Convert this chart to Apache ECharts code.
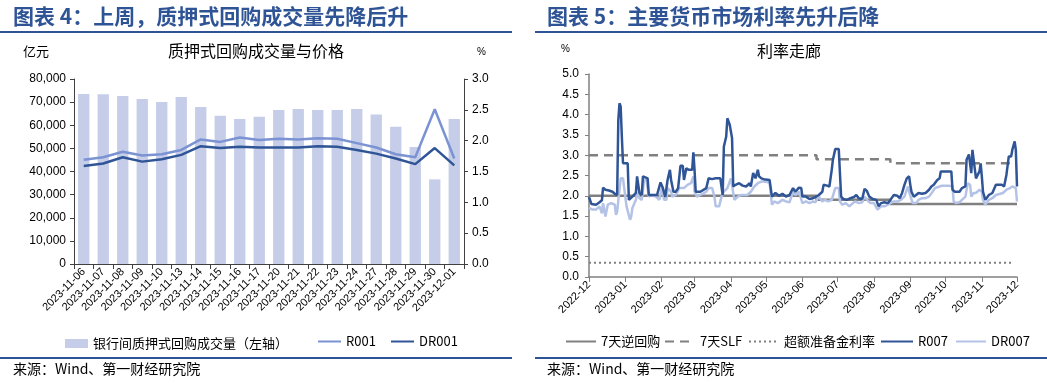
<!DOCTYPE html>
<html><head><meta charset="utf-8">
<script src="https://cdn.jsdelivr.net/npm/echarts@6/dist/echarts.min.js"></script>
<style>html,body{margin:0;padding:0;background:#fff}#c{width:1047px;height:383px}</style>
</head><body><div id="c"></div>
<script>
// ---------- Left chart data ----------
const repoDates = ['2023-11-06','2023-11-07','2023-11-08','2023-11-09','2023-11-10','2023-11-13','2023-11-14','2023-11-15','2023-11-16','2023-11-17','2023-11-20','2023-11-21','2023-11-22','2023-11-23','2023-11-24','2023-11-27','2023-11-28','2023-11-29','2023-11-30','2023-12-01'];
const repoVolume = [73500,73400,72600,71400,70100,72200,67900,64100,62700,63700,66600,67000,66600,66600,67000,64600,59400,50600,36600,62700];
const r001 = [1.69,1.73,1.82,1.76,1.78,1.85,2.02,1.98,2.05,2.01,2.03,2.02,2.04,2.03,1.96,1.89,1.78,1.73,2.51,1.71];
const dr001 = [1.59,1.63,1.73,1.66,1.70,1.77,1.91,1.88,1.90,1.89,1.89,1.89,1.91,1.90,1.85,1.79,1.71,1.62,1.88,1.60];
const leftVolTicks = [0,10000,20000,30000,40000,50000,60000,70000,80000];

// ---------- Right chart data ----------
const r007Dates = ['2022-12-01','2022-12-03','2022-12-07','2022-12-10','2022-12-12','2022-12-13','2022-12-15','2022-12-18','2022-12-21','2022-12-23','2022-12-25','2022-12-26','2022-12-27','2022-12-28','2022-12-29','2022-12-30','2023-01-03','2023-01-04','2023-01-05','2023-01-07','2023-01-10','2023-01-11','2023-01-13','2023-01-15','2023-01-16','2023-01-20','2023-01-21','2023-01-28','2023-01-31','2023-02-02','2023-02-04','2023-02-05','2023-02-06','2023-02-08','2023-02-09','2023-02-11','2023-02-13','2023-02-15','2023-02-17','2023-02-19','2023-02-20','2023-02-22','2023-02-24','2023-02-25','2023-02-27','2023-02-28','2023-03-01','2023-03-02','2023-03-03','2023-03-06','2023-03-11','2023-03-13','2023-03-16','2023-03-19','2023-03-23','2023-03-25','2023-03-26','2023-03-28','2023-03-29','2023-03-31','2023-04-01','2023-04-02','2023-04-03','2023-04-05','2023-04-08','2023-04-11','2023-04-14','2023-04-17','2023-04-18','2023-04-20','2023-04-22','2023-04-24','2023-04-25','2023-04-27','2023-04-29','2023-05-04','2023-05-06','2023-05-07','2023-05-09','2023-05-12','2023-05-15','2023-05-18','2023-05-21','2023-05-24','2023-05-26','2023-05-29','2023-05-31','2023-06-01','2023-06-04','2023-06-07','2023-06-10','2023-06-12','2023-06-15','2023-06-18','2023-06-19','2023-06-22','2023-06-24','2023-06-26','2023-06-27','2023-06-29','2023-07-02','2023-07-03','2023-07-04','2023-07-06','2023-07-09','2023-07-12','2023-07-15','2023-07-17','2023-07-19','2023-07-22','2023-07-24','2023-07-26','2023-07-28','2023-07-31','2023-08-03','2023-08-05','2023-08-07','2023-08-10','2023-08-13','2023-08-15','2023-08-18','2023-08-21','2023-08-23','2023-08-25','2023-08-27','2023-08-29','2023-08-31','2023-09-01','2023-09-02','2023-09-04','2023-09-06','2023-09-08','2023-09-11','2023-09-14','2023-09-17','2023-09-19','2023-09-21','2023-09-24','2023-09-26','2023-09-27','2023-10-06','2023-10-07','2023-10-09','2023-10-13','2023-10-15','2023-10-18','2023-10-19','2023-10-21','2023-10-22','2023-10-23','2023-10-24','2023-10-25','2023-10-27','2023-10-28','2023-10-30','2023-10-31','2023-11-01','2023-11-02','2023-11-04','2023-11-07','2023-11-10','2023-11-13','2023-11-18','2023-11-20','2023-11-22','2023-11-24','2023-11-26','2023-11-27','2023-11-29','2023-11-30','2023-12-01'];
const r007Values = [1.97,1.80,1.78,1.84,1.89,2.20,2.15,2.13,2.10,2.05,2.02,3.87,4.28,4.20,3.46,2.80,2.80,1.90,1.86,1.98,2.07,2.48,2.07,2.02,2.48,2.43,2.02,2.02,2.33,2.19,1.97,1.98,2.39,2.64,2.39,2.10,2.10,2.19,2.74,2.74,2.39,2.68,2.64,2.68,2.64,3.07,2.64,2.10,2.07,2.10,2.19,2.43,2.41,2.43,2.43,2.02,3.21,3.46,3.91,3.75,3.75,3.42,2.23,2.27,2.31,2.25,2.23,2.31,2.23,2.56,2.43,2.64,2.48,2.43,2.41,2.39,1.98,1.98,2.07,2.00,2.05,1.98,2.02,2.19,2.10,2.20,2.19,1.98,1.98,1.92,1.94,1.97,2.02,2.10,2.27,2.25,2.23,2.64,2.89,3.15,3.15,2.56,1.98,1.92,1.90,1.94,1.97,2.02,1.94,1.92,2.17,2.12,1.98,1.92,1.90,1.74,1.82,1.84,1.82,1.90,2.02,2.00,1.94,2.07,2.27,2.43,2.48,2.27,2.10,1.98,2.02,2.07,2.05,2.07,2.15,2.23,2.27,2.39,2.43,2.60,2.60,2.15,2.10,2.10,2.19,2.23,2.89,3.02,3.02,2.56,3.13,3.13,2.43,2.43,2.60,2.80,2.48,2.10,1.90,2.02,2.07,2.27,2.27,2.23,2.52,2.97,2.97,3.13,3.34,3.13,2.23];

const dr007Dates = ['2022-12-01','2022-12-04','2022-12-07','2022-12-10','2022-12-12','2022-12-13','2022-12-15','2022-12-17','2022-12-20','2022-12-23','2022-12-24','2022-12-25','2022-12-28','2022-12-30','2022-12-31','2023-01-02','2023-01-03','2023-01-05','2023-01-06','2023-01-07','2023-01-10','2023-01-11','2023-01-13','2023-01-15','2023-01-17','2023-01-19','2023-01-21','2023-01-23','2023-01-27','2023-01-30','2023-02-01','2023-02-02','2023-02-03','2023-02-05','2023-02-06','2023-02-09','2023-02-10','2023-02-13','2023-02-16','2023-02-17','2023-02-20','2023-02-23','2023-02-26','2023-02-28','2023-03-01','2023-03-03','2023-03-06','2023-03-11','2023-03-13','2023-03-16','2023-03-18','2023-03-19','2023-03-22','2023-03-24','2023-03-26','2023-03-29','2023-04-01','2023-04-02','2023-04-04','2023-04-07','2023-04-10','2023-04-15','2023-04-18','2023-04-21','2023-04-24','2023-04-27','2023-04-29','2023-05-04','2023-05-06','2023-05-08','2023-05-11','2023-05-12','2023-05-15','2023-05-18','2023-05-21','2023-05-24','2023-05-26','2023-05-29','2023-06-01','2023-06-04','2023-06-07','2023-06-10','2023-06-12','2023-06-15','2023-06-18','2023-06-20','2023-06-23','2023-06-26','2023-06-29','2023-07-02','2023-07-03','2023-07-05','2023-07-08','2023-07-11','2023-07-14','2023-07-16','2023-07-19','2023-07-22','2023-07-24','2023-07-26','2023-07-29','2023-08-01','2023-08-04','2023-08-07','2023-08-10','2023-08-13','2023-08-15','2023-08-18','2023-08-21','2023-08-24','2023-08-27','2023-08-30','2023-08-31','2023-09-03','2023-09-06','2023-09-08','2023-09-11','2023-09-14','2023-09-17','2023-09-20','2023-09-22','2023-09-26','2023-09-28','2023-10-04','2023-10-07','2023-10-08','2023-10-10','2023-10-13','2023-10-15','2023-10-18','2023-10-20','2023-10-22','2023-10-23','2023-10-25','2023-10-27','2023-10-30','2023-11-01','2023-11-02','2023-11-04','2023-11-07','2023-11-10','2023-11-13','2023-11-19','2023-11-22','2023-11-25','2023-11-27','2023-11-30','2023-12-01'];
const dr007Values = [1.70,1.66,1.66,1.74,1.57,1.82,1.49,1.78,1.82,1.78,1.53,1.61,2.43,2.43,2.39,1.74,1.70,1.41,1.49,1.70,1.90,2.07,1.94,1.90,2.39,2.39,1.98,2.02,1.98,1.90,2.19,2.10,1.90,1.90,2.19,2.10,1.98,2.02,2.19,2.23,2.19,2.27,2.31,2.48,2.10,1.98,2.02,2.10,2.19,2.19,1.98,1.74,1.74,1.98,2.10,2.19,2.43,2.39,1.90,1.98,2.02,2.02,2.10,2.23,2.31,2.35,2.35,2.33,1.78,1.86,1.82,1.84,1.90,1.86,1.84,2.10,2.02,2.10,1.82,1.86,1.82,1.86,1.84,1.98,1.86,1.90,1.86,1.90,2.19,2.19,1.86,1.78,1.82,1.74,1.82,1.86,1.82,1.84,1.98,1.90,1.82,1.82,1.66,1.74,1.74,1.78,1.82,1.86,1.86,1.90,1.98,2.23,2.10,1.82,1.82,1.90,1.94,1.94,1.98,2.10,2.19,2.23,2.25,2.25,2.23,1.86,1.82,1.84,1.90,1.98,2.31,2.27,1.98,2.07,2.07,2.15,2.10,1.90,1.78,1.90,1.94,2.02,2.07,2.15,2.19,2.23,2.19,1.86];

const revRepoDates = ['2022-12-01','2023-06-13','2023-06-13','2023-08-15','2023-08-15','2023-12-01'];
const revRepoValues = [2.0,2.0,1.9,1.9,1.8,1.8];
const slfDates = ['2022-12-01','2023-06-13','2023-06-13','2023-08-15','2023-08-15','2023-11-28'];
const slfValues = [3.0,3.0,2.9,2.9,2.8,2.8];
const excessDates = ['2022-12-01','2023-11-28'];
const excessValues = [0.35,0.35];

const zip = (a, b) => a.map((d, i) => [d, b[i]]);
const FONT = '"Liberation Sans","Noto Sans CJK SC",sans-serif';
const CJK = '"Noto Sans CJK SC",sans-serif';
const BLUE = '#2f5496';
const axisLineStyle = { color: '#404040', width: 1 };

const chart = echarts.init(document.getElementById('c'), null, { renderer: 'canvas' });

const legendBase = { orient: 'horizontal', top: 335, itemHeight: 14, itemGap: 0,
  textStyle: { fontFamily: CJK, fontSize: 13, color: '#000' }, padding: 0, selectedMode: false,
  itemStyle: { opacity: 0 } };

chart.setOption({
  backgroundColor: '#fff',
  animation: false,
  textStyle: { fontFamily: FONT },
  grid: [
    { left: 74, top: 79, width: 390, height: 185 },
    { left: 589, top: 74, width: 428, height: 203 }
  ],
  xAxis: [
    { type: 'category', gridIndex: 0, data: repoDates, boundaryGap: true,
      axisLine: { lineStyle: axisLineStyle }, axisTick: { show: true, length: 5, lineStyle: axisLineStyle },
      axisLabel: { rotate: 45, interval: 0, fontSize: 11, color: '#000', margin: 6, fontFamily: FONT } },
    { type: 'time', gridIndex: 1, min: '2022-12-01', max: '2023-12-01', splitNumber: 12,
      axisLine: { lineStyle: { color: '#808080', width: 1.5 } }, axisTick: { show: true, length: 5, lineStyle: { color: '#808080' } },
      splitLine: { show: false },
      axisLabel: { rotate: 45, fontSize: 11, color: '#000', margin: 6, showMinLabel: true, showMaxLabel: true, hideOverlap: false, fontFamily: FONT,
        formatter: v => echarts.time.format(v, '{yyyy}-{MM}', false) } }
  ],
  yAxis: [
    { type: 'value', gridIndex: 0, min: 0, max: 80000, interval: 10000, splitLine: { show: false },
      axisLine: { show: true, lineStyle: axisLineStyle }, axisTick: { show: true, length: 4, lineStyle: axisLineStyle },
      axisLabel: { fontSize: 12, color: '#000', margin: 8, fontFamily: FONT,
        formatter: v => leftVolTicks.includes(v) ? v.toString().replace(/\B(?=(\d{3})+(?!\d))/g, ',') : '' } },
    { type: 'value', gridIndex: 0, position: 'right', min: 0, max: 3, interval: 0.5, splitLine: { show: false },
      axisLine: { show: true, lineStyle: axisLineStyle }, axisTick: { show: true, length: 4, lineStyle: axisLineStyle },
      axisLabel: { fontSize: 12, color: '#000', margin: 8, fontFamily: FONT, formatter: v => v.toFixed(1) } },
    { type: 'value', gridIndex: 1, min: 0, max: 5, interval: 0.5, splitLine: { show: false },
      axisLine: { show: true, lineStyle: { color: '#808080', width: 1.5 } }, axisTick: { show: true, length: 4, lineStyle: { color: '#808080' } },
      axisLabel: { fontSize: 12, color: '#000', margin: 10, fontFamily: FONT, formatter: v => v.toFixed(1) } }
  ],
  legend: [
    Object.assign({}, legendBase, { left: 65, data: [{ name: '银行间质押式回购成交量（左轴）', icon: 'rect' }], itemWidth: 23, itemHeight: 9, top: 337, itemStyle: {} }),
    Object.assign({}, legendBase, { left: 317, data: ['R001'], itemWidth: 23 }),
    Object.assign({}, legendBase, { left: 390, data: ['DR001'], itemWidth: 23 }),
    Object.assign({}, legendBase, { left: 565, data: ['7天逆回购'], itemWidth: 30 }),
    Object.assign({}, legendBase, { left: 664, data: ['7天SLF'], itemWidth: 30 }),
    Object.assign({}, legendBase, { left: 748, data: ['超额准备金利率'], itemWidth: 30 }),
    Object.assign({}, legendBase, { left: 880, data: ['R007'], itemWidth: 32 }),
    Object.assign({}, legendBase, { left: 955, data: ['DR007'], itemWidth: 30 })
  ],
  series: [
    { name: '银行间质押式回购成交量（左轴）', type: 'bar', xAxisIndex: 0, yAxisIndex: 0, data: repoVolume,
      barWidth: '58%', itemStyle: { color: '#c5cde8' } },
    { name: 'R001', type: 'line', xAxisIndex: 0, yAxisIndex: 1, data: r001, symbol: 'none',
      lineStyle: { color: '#7b93d3', width: 2.5 }, itemStyle: { color: '#7b93d3' } },
    { name: 'DR001', type: 'line', xAxisIndex: 0, yAxisIndex: 1, data: dr001, symbol: 'none',
      lineStyle: { color: '#2f5597', width: 2.5 }, itemStyle: { color: '#2f5597' } },
    { name: '7天逆回购', type: 'line', xAxisIndex: 1, yAxisIndex: 2, data: zip(revRepoDates, revRepoValues), symbol: 'none',
      lineStyle: { color: '#808080', width: 2.5 }, itemStyle: { color: '#808080' }, z: 1 },
    { name: '7天SLF', type: 'line', xAxisIndex: 1, yAxisIndex: 2, data: zip(slfDates, slfValues), symbol: 'none',
      lineStyle: { color: '#808080', width: 2.5, type: [9, 6] }, itemStyle: { color: '#808080' }, z: 1 },
    { name: '超额准备金利率', type: 'line', xAxisIndex: 1, yAxisIndex: 2, data: zip(excessDates, excessValues), symbol: 'none',
      lineStyle: { color: '#808080', width: 2, type: [2, 3] }, itemStyle: { color: '#808080' }, z: 1 },
    { name: 'DR007', type: 'line', xAxisIndex: 1, yAxisIndex: 2, data: zip(dr007Dates, dr007Values), symbol: 'none',
      lineStyle: { color: '#b4c2e6', width: 2.5 }, itemStyle: { color: '#b4c2e6' }, z: 2 },
    { name: 'R007', type: 'line', xAxisIndex: 1, yAxisIndex: 2, data: zip(r007Dates, r007Values), symbol: 'none',
      lineStyle: { color: '#2f5597', width: 2.5 }, itemStyle: { color: '#2f5597' }, z: 3 }
  ],
  graphic: [
    { type: 'text', left: 13, top: 6, style: { text: '图表 4：上周，质押式回购成交量先降后升', font: 'bold 21px "Noto Sans CJK SC", sans-serif', fill: BLUE } },
    { type: 'text', left: 547, top: 6, style: { text: '图表 5：主要货币市场利率先升后降', font: 'bold 21px "Noto Sans CJK SC", sans-serif', fill: BLUE } },
    { type: 'line', shape: { x1: 0, y1: 32, x2: 512, y2: 32 }, style: { stroke: BLUE, lineWidth: 2 } },
    { type: 'line', shape: { x1: 535, y1: 32, x2: 1047, y2: 32 }, style: { stroke: BLUE, lineWidth: 2 } },
    { type: 'text', left: 23, top: 45, style: { text: '亿元', font: '13px "Noto Sans CJK SC", sans-serif', fill: '#000' } },
    { type: 'text', left: 168, top: 43, style: { text: '质押式回购成交量与价格', font: '16px "Noto Sans CJK SC", sans-serif', fill: '#000' } },
    { type: 'text', left: 477, top: 47, style: { text: '%', font: '10px "Liberation Sans", sans-serif', fill: '#000' } },
    { type: 'text', left: 561, top: 44, style: { text: '%', font: '10px "Liberation Sans", sans-serif', fill: '#000' } },
    { type: 'text', left: 757, top: 43, style: { text: '利率走廊', font: '16px "Noto Sans CJK SC", sans-serif', fill: '#000' } },
    { type: 'line', shape: { x1: 0, y1: 358, x2: 512, y2: 358 }, style: { stroke: BLUE, lineWidth: 2 } },
    { type: 'line', shape: { x1: 535, y1: 358, x2: 1047, y2: 358 }, style: { stroke: BLUE, lineWidth: 2 } },
    { type: 'text', left: 13, top: 362, style: { text: '来源：Wind、第一财经研究院', font: '14px "Noto Sans CJK SC", sans-serif', fill: '#000' } },
    { type: 'text', left: 547, top: 362, style: { text: '来源：Wind、第一财经研究院', font: '14px "Noto Sans CJK SC", sans-serif', fill: '#000' } }
  ]
});
</script></body></html>
